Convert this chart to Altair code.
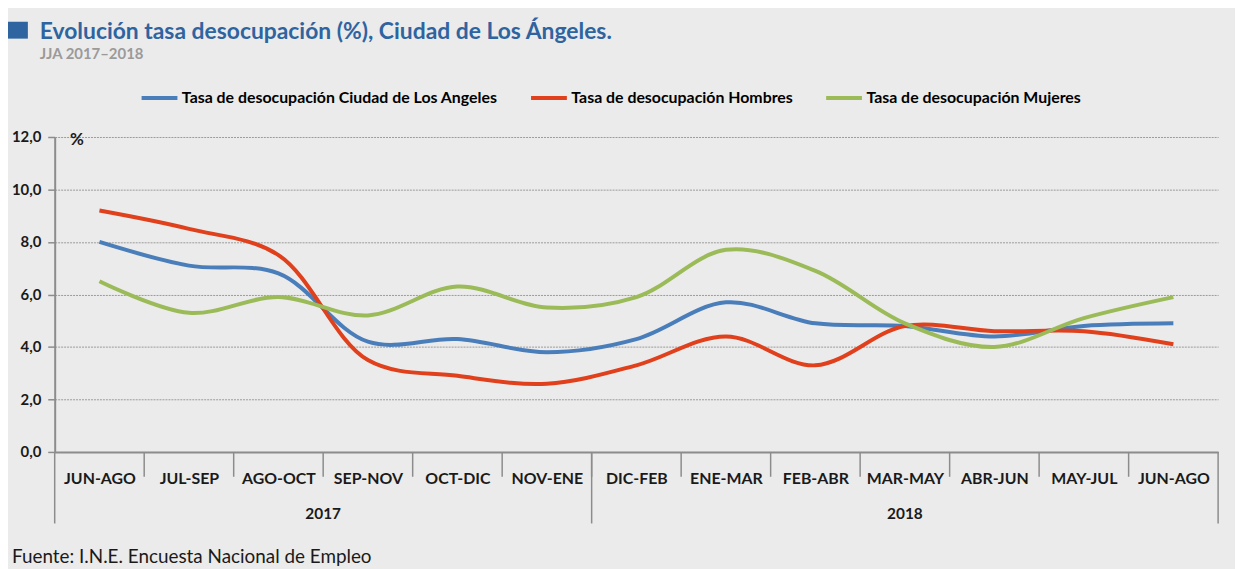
import altair as alt
import pandas as pd

# ---- data ----
categories = ["JUN-AGO", "JUL-SEP", "AGO-OCT", "SEP-NOV", "OCT-DIC", "NOV-ENE",
              "DIC-FEB", "ENE-MAR", "FEB-ABR", "MAR-MAY", "ABR-JUN", "MAY-JUL", "JUN-AGO"]
years = ["2017", "2018"]
year_counts = [6, 7]
series_names = ["Tasa de desocupación Ciudad de Los Angeles",
                "Tasa de desocupación Hombres",
                "Tasa de desocupación Mujeres"]
ciudad = [8.0, 7.1, 6.8, 4.2, 4.3, 3.8, 4.3, 5.7, 4.9, 4.8, 4.4, 4.8, 4.9]
hombres = [9.2, 8.5, 7.5, 3.5, 2.9, 2.6, 3.3, 4.4, 3.3, 4.8, 4.6, 4.6, 4.1]
mujeres = [6.5, 5.3, 5.9, 5.2, 6.3, 5.5, 5.9, 7.7, 6.9, 4.9, 4.0, 5.1, 5.9]
y_ticks = [0, 2, 4, 6, 8, 10, 12]
colors = ["#4A7EBB", "#E0401C", "#9BBB59"]
title_text = "Evolución tasa desocupación (%), Ciudad de Los Ángeles."
subtitle_text = "JJA 2017–2018"
footer_text = "Fuente: I.N.E. Encuesta Nacional de Empleo"

FONT = "Lato"
W, H = 1171, 317
n = len(categories)

rows = []
for name, vals in zip(series_names, [ciudad, hombres, mujeres]):
    for i, v in enumerate(vals):
        rows.append({"idx": i, "series": name, "value": v})
df = pd.DataFrame(rows)

xscale = alt.Scale(domain=[-0.5, n - 0.5], nice=False, zero=False)
label_js = "[" + ",".join("'" + c + "'" for c in categories) + "]"

xaxis = alt.Axis(values=list(range(n)), labelExpr=label_js + "[datum.value]",
                 title=None, grid=False, ticks=False, domain=True,
                 domainColor="#8C8C8C", domainWidth=2, labelOverlap=False,
                 labelFont=FONT, labelFontSize=16, labelFontWeight="bold",
                 labelColor="#1A1A1A", labelPadding=27, labelBaseline="middle")

lines = alt.Chart(df).mark_line(interpolate="catmull-rom", strokeWidth=4).encode(
    x=alt.X("idx:Q", scale=xscale, axis=xaxis),
    y=alt.Y("value:Q", scale=alt.Scale(domain=[0, 12], nice=False),
            axis=alt.Axis(values=y_ticks,
                          labelExpr="replace(format(datum.value, '.1f'), '.', ',')",
                          title="%", titleAngle=0, titleX=15, titleY=3,
                          titleAlign="left", titleBaseline="middle",
                          titleFont=FONT, titleFontSize=17, titleFontWeight="bold",
                          titleColor="#1A1A1A",
                          grid=True, gridColor="#9A9A9A", gridDash=[2, 1], gridWidth=1,
                          domain=True, domainColor="#8C8C8C", domainWidth=2,
                          tickColor="#8C8C8C", tickSize=7, tickWidth=1.5,
                          labelFont=FONT, labelFontSize=15, labelFontWeight="bold",
                          labelColor="#1A1A1A", labelPadding=7)),
    color=alt.Color("series:N", scale=alt.Scale(domain=series_names, range=colors),
                    legend=alt.Legend(title=None, orient="none", direction="horizontal",
                                      legendX=85, legendY=-60,
                                      symbolType="stroke", symbolStrokeWidth=4,
                                      symbolSize=1300, columnPadding=24,
                                      labelFont=FONT, labelFontSize=16,
                                      labelFontWeight="bold", labelColor="#000000",
                                      labelOffset=2, labelLimit=600))
)

# category separators on the x axis
short_sep = pd.DataFrame({"idx": [i + 0.5 for i in range(n - 1)]})
edges = [-0.5]
acc = -0.5
for c in year_counts:
    acc += c
    edges.append(acc)
long_sep = pd.DataFrame({"idx": edges})

seps_short = alt.Chart(short_sep).mark_rule(color="#8C8C8C", strokeWidth=1.5).encode(
    x=alt.X("idx:Q", scale=xscale, axis=xaxis), y=alt.value(H), y2=alt.value(H + 25))
seps_long = alt.Chart(long_sep).mark_rule(color="#8C8C8C", strokeWidth=1.5).encode(
    x=alt.X("idx:Q", scale=xscale, axis=xaxis), y=alt.value(H), y2=alt.value(H + 72))

centers = []
start = 0
for c in year_counts:
    centers.append(start + (c - 1) / 2)
    start += c
year_df = pd.DataFrame({"year": years, "idx": centers})
year_text = alt.Chart(year_df).mark_text(font=FONT, fontSize=15.5, fontWeight="bold",
                                         color="#1A1A1A", baseline="middle").encode(
    x=alt.X("idx:Q", scale=xscale, axis=xaxis), y=alt.value(H + 62), text="year:N")

footer = alt.Chart(pd.DataFrame({"t": [footer_text]})).mark_text(
    font=FONT, fontSize=19, align="left", baseline="alphabetic", color="#1A1A1A").encode(
    x=alt.value(-43), y=alt.value(H + 112), text="t:N")

title = alt.Chart(pd.DataFrame({"t": [title_text]})).mark_text(
    font=FONT, fontSize=23, fontWeight="bold", align="left", baseline="alphabetic",
    color="#2E64A0").encode(x=alt.value(-15), y=alt.value(-99), text="t:N")

subtitle = alt.Chart(pd.DataFrame({"t": [subtitle_text]})).mark_text(
    font=FONT, fontSize=15, fontWeight="bold", align="left", baseline="alphabetic",
    color="#9A9A9A").encode(x=alt.value(-15), y=alt.value(-78), text="t:N")

square = alt.Chart(pd.DataFrame({"k": [1]})).mark_rect(color="#2E64A0").encode(
    x=alt.value(-50), x2=alt.value(-27), y=alt.value(-116), y2=alt.value(-99))

chart = alt.layer(lines, seps_short, seps_long, year_text, footer, title, subtitle,
                  square).properties(
    width=W, height=H,
    padding={"left": 47, "top": 128, "right": 17, "bottom": 116},
    autosize=alt.AutoSizeParams(type="none"),
    background="#EBEBEB",
).configure_view(stroke=None)

chart.save("out.html", embed_options={"renderer": "svg", "actions": False})
